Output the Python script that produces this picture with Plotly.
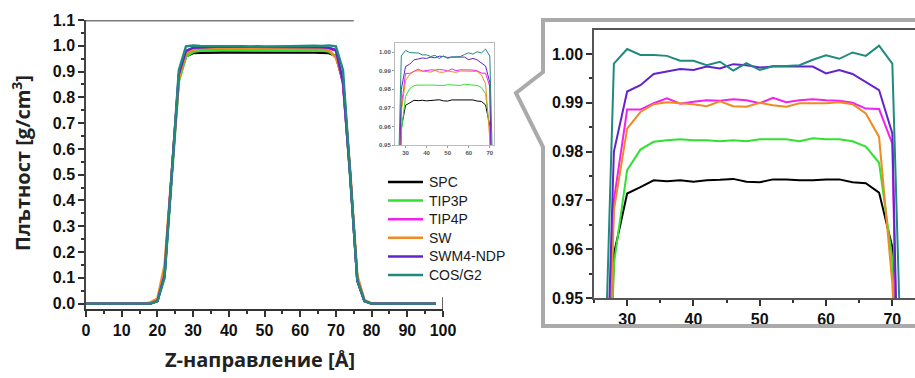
import plotly.graph_objects as go

W, H = 915, 378

# ---------------- data ----------------
z = [0, 2, 4, 6, 8, 10, 12, 14, 16, 18, 20, 22, 24, 26, 28, 30, 32, 34, 36, 38,
     40, 42, 44, 46, 48, 50, 52, 54, 56, 58, 60, 62, 64, 66, 68, 70, 72, 74, 76, 78,
     80, 82, 84, 86, 88, 90, 92, 94, 96, 98]

names = ["SPC", "TIP3P", "TIP4P", "SW", "SWM4-NDP", "COS/G2"]
colors = ["#000000", "#33e033", "#f022f0", "#f08a22", "#6422cc", "#1f8a7e"]

zeros9 = [0.0, 0.0, 0.0, 0.0, 0.0, 0.0, 0.0, 0.0, 0.0]
zeros10 = [0.0, 0.0, 0.0, 0.0, 0.0, 0.0, 0.0, 0.0, 0.0, 0.0]

spc = zeros9 + [0.0, 0.01, 0.12, 0.50, 0.87,
                0.959, 0.9714, 0.9727, 0.9741, 0.9739, 0.9741, 0.9738, 0.9741, 0.9742, 0.9744,
                0.9738, 0.9737, 0.9743, 0.9743, 0.9741, 0.9741, 0.9743, 0.9743, 0.9737, 0.9735,
                0.9716, 0.9604,
                0.86, 0.50, 0.09, 0.01] + zeros10
tip3p = zeros9 + [0.0, 0.01, 0.10, 0.48, 0.86,
                  0.957, 0.9762, 0.9804, 0.9820, 0.9823, 0.9825, 0.9823, 0.9823, 0.9821, 0.9823,
                  0.9821, 0.9825, 0.9825, 0.9825, 0.9821, 0.9827, 0.9825, 0.9825, 0.9821, 0.9810,
                  0.9777, 0.958,
                  0.87, 0.50, 0.10, 0.01] + zeros10
tip4p = zeros9 + [0.0, 0.01, 0.12, 0.50, 0.88,
                  0.970, 0.9886, 0.9886, 0.9899, 0.9909, 0.9898, 0.9902, 0.9905, 0.9904, 0.9907,
                  0.9905, 0.9899, 0.9910, 0.9901, 0.9905, 0.9907, 0.9905, 0.9904, 0.9900, 0.9888,
                  0.9887, 0.9816,
                  0.85, 0.50, 0.09, 0.01] + zeros10
sw = zeros9 + [0.005, 0.02, 0.15, 0.52, 0.87,
               0.968, 0.9847, 0.9881, 0.9897, 0.9901, 0.9899, 0.9897, 0.9893, 0.9903, 0.9893,
               0.9892, 0.9900, 0.9895, 0.9892, 0.9899, 0.9899, 0.9899, 0.9901, 0.9897, 0.9878,
               0.9830, 0.953,
               0.87, 0.52, 0.11, 0.015] + zeros10
swm4 = zeros9 + [0.0, 0.01, 0.11, 0.50, 0.89,
                 0.980, 0.9923, 0.9936, 0.9959, 0.9964, 0.9969, 0.9967, 0.9974, 0.9970, 0.9979,
                 0.9977, 0.9972, 0.9974, 0.9974, 0.9975, 0.9974, 0.9960, 0.9967, 0.9959, 0.9943,
                 0.9926, 0.9837,
                 0.86, 0.50, 0.09, 0.01] + zeros10
cos = zeros9 + [0.0, 0.01, 0.10, 0.50, 0.905,
                0.998, 1.0010, 0.9998, 0.9998, 0.9996, 0.9986, 0.9986, 0.9977, 0.9984, 0.9966,
                0.9981, 0.9967, 0.9975, 0.9975, 0.9977, 0.9988, 0.9997, 0.9990, 1.0003, 0.9996,
                1.0017, 0.998,
                0.905, 0.50, 0.09, 0.01] + zeros10

series = [spc, tip3p, tip4p, sw, swm4, cos]

main_x_ticks = [0, 10, 20, 30, 40, 50, 60, 70, 80, 90, 100]
main_y_ticks = [0.0, 0.1, 0.2, 0.3, 0.4, 0.5, 0.6, 0.7, 0.8, 0.9, 1.0, 1.1]
zoom_x_ticks = [30, 40, 50, 60, 70]
zoom_y_ticks = [0.95, 0.96, 0.97, 0.98, 0.99, 1.00]

# ---------------- figure ----------------
def px_x(p):
    return p / W

def px_y(p):
    return 1 - p / H

fig = go.Figure()

for name, col, ys in zip(names, colors, series):
    fig.add_trace(go.Scatter(x=z, y=ys, mode="lines", name=name,
                             line=dict(color=col, width=2.4),
                             xaxis="x", yaxis="y", showlegend=False))
for name, col, ys in zip(names, colors, series):
    fig.add_trace(go.Scatter(x=z, y=ys, mode="lines", name=name,
                             line=dict(color=col, width=1),
                             xaxis="x2", yaxis="y2", showlegend=False))
for name, col, ys in zip(names, colors, series):
    fig.add_trace(go.Scatter(x=z, y=ys, mode="lines", name=name,
                             line=dict(color=col, width=2),
                             xaxis="x3", yaxis="y3", showlegend=False))

tickfont_main = dict(family="Liberation Sans, Arial", size=16, color="#111111", weight="bold")
tickfont_inset = dict(family="Liberation Sans, Arial", size=6, color="#555", weight="bold")

fig.update_layout(
    template="none",
    width=W, height=H,
    margin=dict(l=0, r=0, t=0, b=0, pad=0, autoexpand=False),
    paper_bgcolor="white", plot_bgcolor="rgba(0,0,0,0)",
    showlegend=False,
    xaxis=dict(domain=[px_x(86), px_x(443)], range=[0, 100], tickvals=main_x_ticks,
               ticks="outside", ticklen=6, tickwidth=1.5, tickcolor="#333",
               minor=dict(dtick=5, ticks="outside", ticklen=3, tickcolor="#333"),
               showline=True, linecolor="#333", linewidth=1.5, showgrid=False,
               zeroline=False, tickfont=tickfont_main, anchor="y", automargin=False),
    yaxis=dict(domain=[px_y(309.3), px_y(20)], range=[-0.022, 1.1], tickvals=main_y_ticks,
               tickformat=".1f",
               ticks="outside", ticklen=6, tickwidth=1.5, tickcolor="#333",
               minor=dict(dtick=0.05, tick0=0, ticks="outside", ticklen=3, tickcolor="#333"),
               showline=True, linecolor="#444", linewidth=1.5, showgrid=False,
               zeroline=False, tickfont=tickfont_main, anchor="x", automargin=False),
    xaxis2=dict(domain=[px_x(395), px_x(494)], range=[25, 72], tickvals=zoom_x_ticks,
                ticks="outside", ticklen=2, tickcolor="#999", tickwidth=0.6,
                showline=True, mirror=True, linecolor="#bbbbbb", linewidth=1,
                showgrid=False, zeroline=False, tickfont=tickfont_inset,
                anchor="y2", automargin=False),
    yaxis2=dict(domain=[px_y(145), px_y(43)], range=[0.95, 1.005], tickvals=zoom_y_ticks,
                tickformat=".2f",
                ticks="outside", ticklen=2, tickcolor="#999", tickwidth=0.6,
                showline=True, mirror=True, linecolor="#bbbbbb", linewidth=1,
                showgrid=False, zeroline=False, tickfont=tickfont_inset,
                anchor="x2", automargin=False),
    xaxis3=dict(domain=[px_x(594), 1.0], range=[25, 73.42], tickvals=zoom_x_ticks,
                ticks="outside", ticklen=6, tickwidth=1.5, tickcolor="#333",
                minor=dict(dtick=5, tick0=0, ticks="outside", ticklen=3, tickcolor="#333"),
                showline=True, mirror=True, linecolor="#555", linewidth=1.5,
                showgrid=False, zeroline=False, tickfont=tickfont_main,
                anchor="y3", automargin=False),
    yaxis3=dict(domain=[px_y(298), px_y(30)], range=[0.95, 1.0049], tickvals=zoom_y_ticks,
                tickformat=".2f",
                ticks="outside", ticklen=6, tickwidth=1.5, tickcolor="#333",
                minor=dict(dtick=0.005, tick0=0.95, ticks="outside", ticklen=3, tickcolor="#333"),
                showline=True, linecolor="#555", linewidth=1.5, showgrid=False,
                zeroline=False, tickfont=tickfont_main, anchor="x3", automargin=False),
)

# callout frame around the zoomed panel
pts = [(W + 5, 20), (543, 20), (543, 72), (516, 93), (543, 147), (543, 326), (W + 5, 326)]
path = "M " + " L ".join(f"{px_x(a):.5f},{px_y(b):.5f}" for a, b in pts)
fig.add_shape(type="path", path=path, xref="paper", yref="paper",
              line=dict(color="#aaaaaa", width=4))

# top frame line of main plot (partly hidden in the original)
fig.add_shape(type="line", xref="x", yref="y", x0=0, x1=75, y0=1.1, y1=1.1,
              line=dict(color="#7a7a7a", width=3))
fig.add_shape(type="line", xref="x", yref="y", x0=100, x1=100, y0=-0.022, y1=0.025,
              line=dict(color="#333", width=1.5))

# legend (drawn by hand to match spacing)
leg_y0, leg_dy = 182, 18.6
for i, (name, col) in enumerate(zip(names, colors)):
    yy = px_y(leg_y0 + i * leg_dy)
    fig.add_shape(type="line", xref="paper", yref="paper",
                  x0=px_x(388), x1=px_x(423), y0=yy, y1=yy,
                  line=dict(color=col, width=2.5))
    fig.add_annotation(text=name, xref="paper", yref="paper", x=px_x(427), y=yy,
                       xanchor="left", yanchor="middle", showarrow=False,
                       font=dict(family="Liberation Sans, Arial", size=14, color="#1a1a1a"))

# axis titles
fig.add_annotation(text="Плътност [g/cm<sup>3</sup>]", xref="paper", yref="paper",
                   x=px_x(22), y=px_y(163), textangle=-90, showarrow=False,
                   xanchor="center", yanchor="middle",
                   font=dict(family="Open Sans", size=20, color="#222222", weight="bold"))
fig.add_annotation(text="Z-направление [Å]", xref="paper", yref="paper",
                   x=px_x(260), y=px_y(359), showarrow=False,
                   xanchor="center", yanchor="middle",
                   font=dict(family="Open Sans", size=20, color="#222222", weight="bold"))

fig.write_html("out.html")
